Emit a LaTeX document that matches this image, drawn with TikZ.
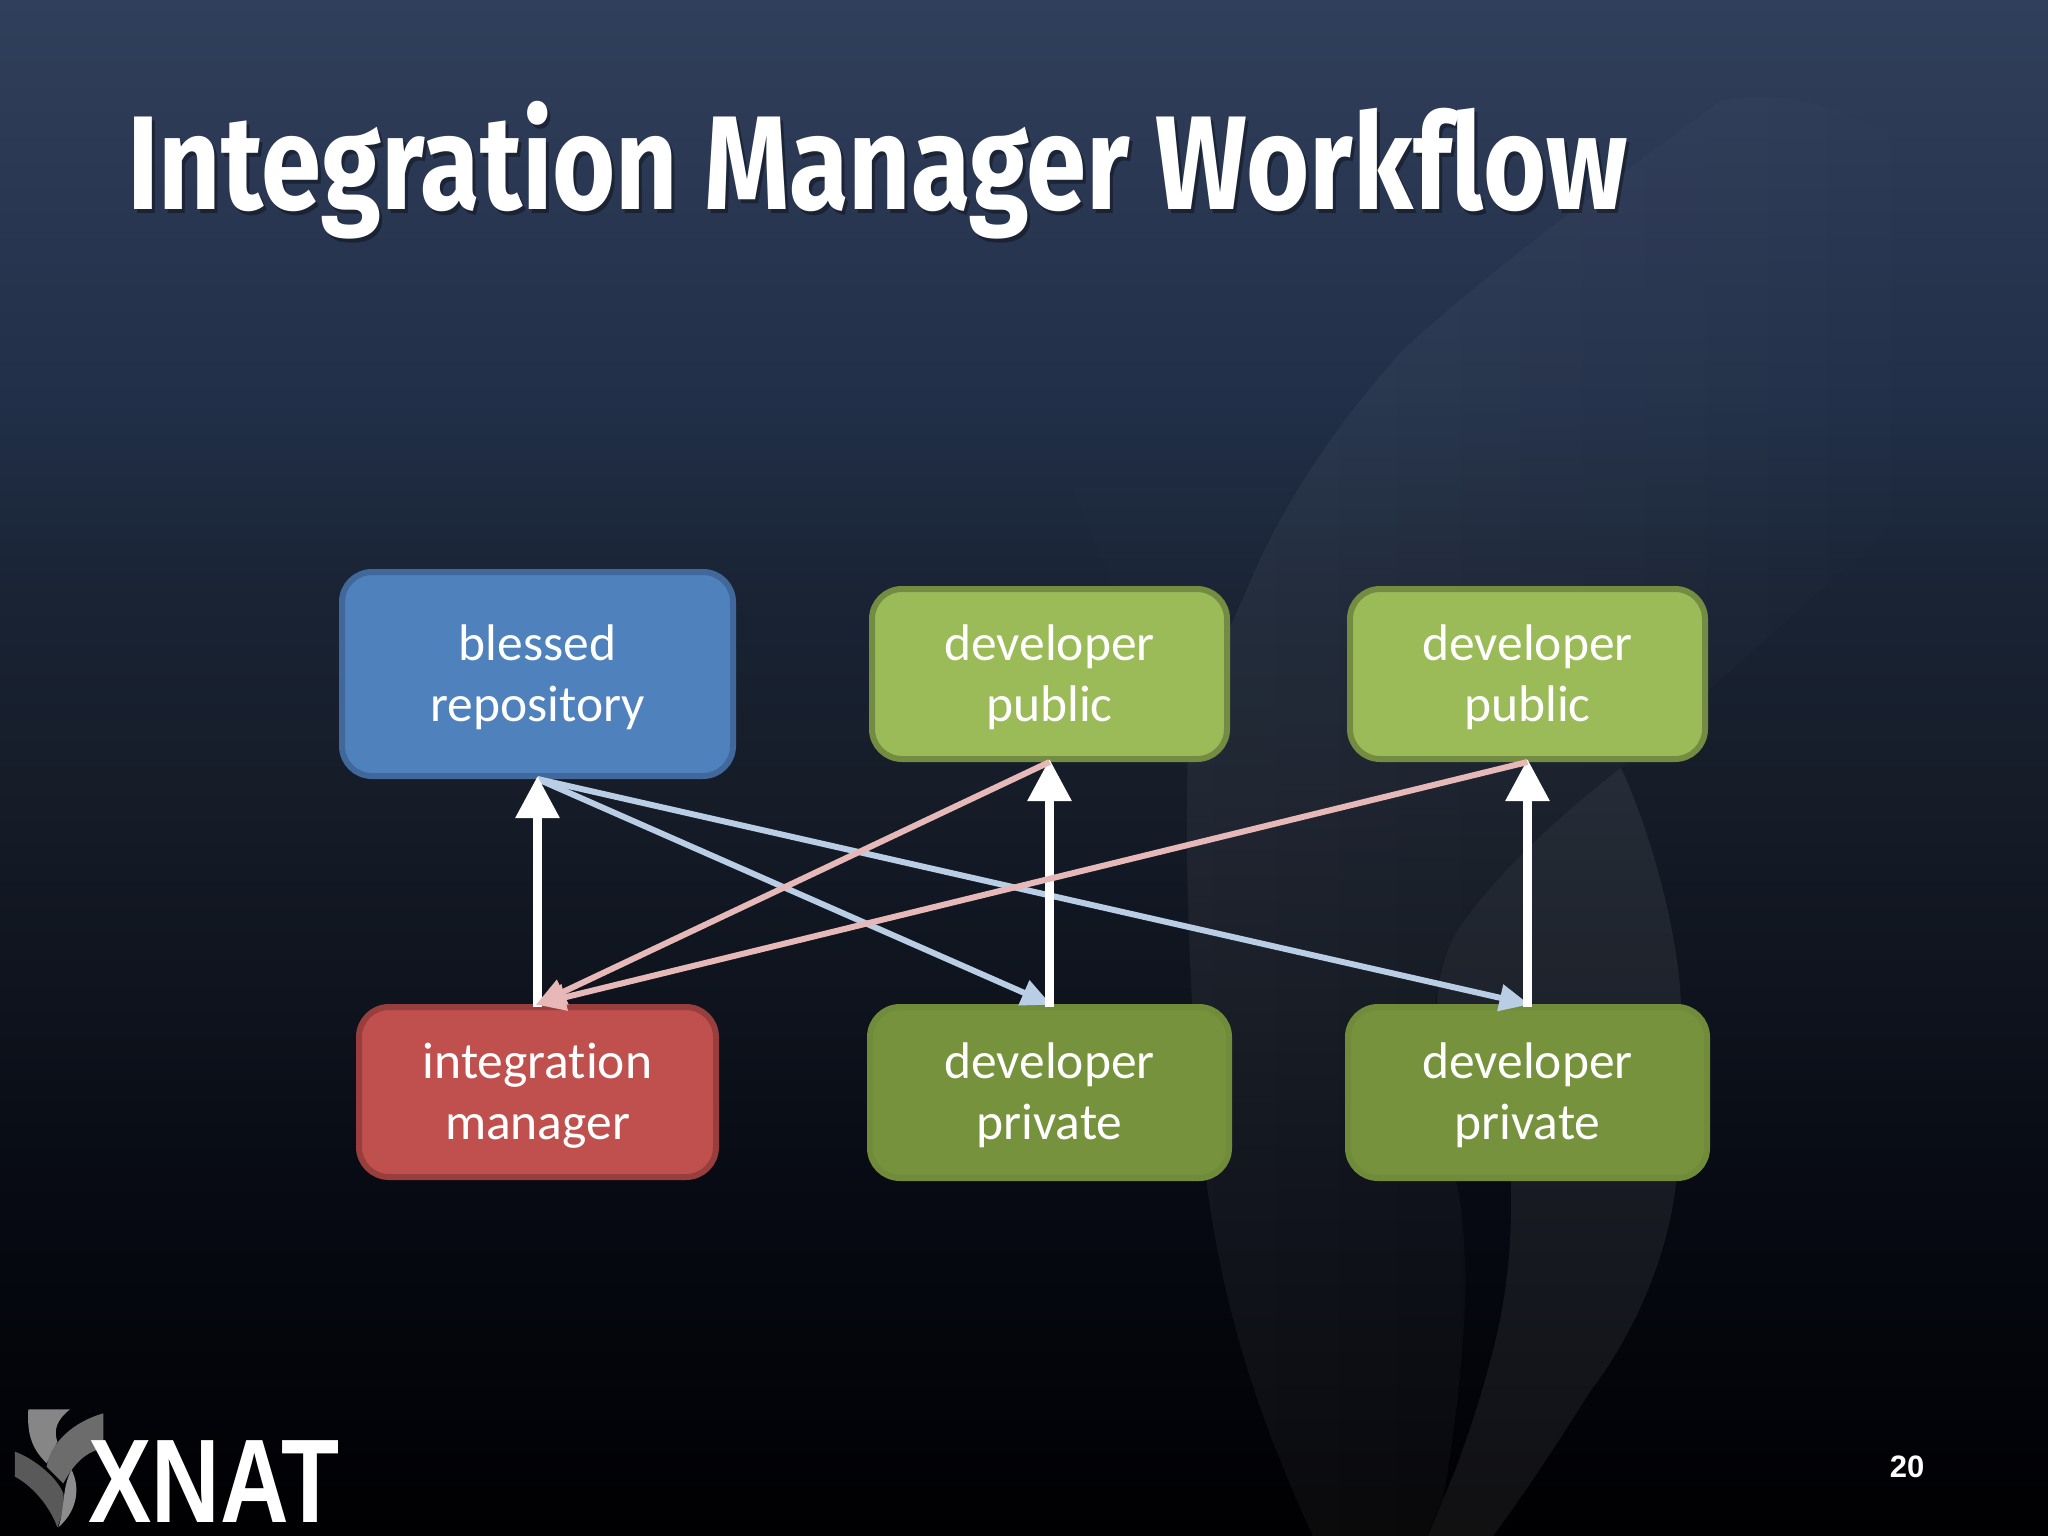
\documentclass[tikz,border=0pt]{standalone}
\usepackage{fontspec}
\usetikzlibrary{arrows.meta,fadings}
\newfontfamily\boxfont[Ligatures=NoCommon]{Carlito}
\newfontfamily\titlefont[FakeStretch=0.812,Ligatures=NoCommon]{Fira Sans Bold}
\newfontfamily\logofont[FakeStretch=0.798]{Liberation Sans Bold}
\newfontfamily\numfont{Liberation Sans Bold}
\newcommand\boxlines[2]{\raisebox{0pt}[\dimexpr\height+9pt\relax][\depth]{\begin{tabular}{@{}c@{}}#1\\#2\end{tabular}}}
\definecolor{bgA}{RGB}{48,63,91}
\definecolor{bgB}{RGB}{42,55,82}
\definecolor{bgC}{RGB}{33,47,72}
\definecolor{bgD}{RGB}{25,35,52}
\definecolor{bgE}{RGB}{22,29,41}
\definecolor{bgF}{RGB}{14,19,29}
\definecolor{bgG}{RGB}{7,10,19}
\definecolor{bgH}{RGB}{0,0,2}
\pgfdeclareverticalshading{bgshade}{100bp}{
  color(0bp)=(bgH); color(25bp)=(bgH); color(35.9bp)=(bgG); color(42.4bp)=(bgF); color(49.6bp)=(bgE);
  color(55.5bp)=(bgD); color(62bp)=(bgC); color(68.5bp)=(bgB); color(75bp)=(bgA); color(100bp)=(bgA)}
\tikzfading[name=leaffade,left color=transparent!0,middle color=transparent!20,right color=transparent!100]
\tikzset{
  repo/.style={rectangle,rounded corners=30,line width=6,text=white,inner sep=0,
    font=\boxfont\fontsize{51.5}{61}\selectfont},
  bluebox/.style={repo,draw=boxblueline,fill=boxblue,minimum width=391,minimum height=204},
  redbox/.style={repo,draw=boxredline,fill=boxred,minimum width=357,minimum height=170},
  pubbox/.style={repo,draw=boxgreenline,fill=boxgreen,minimum width=355,minimum height=170},
  privbox/.style={repo,draw=boxdarkline,fill=boxdark,minimum width=359,minimum height=171},
  pusharrow/.style={draw=white,line width=9,-{Triangle[width=42,length=42]},shorten >=-3,shorten <=-3},
  bluearrow/.style={draw=arrowblue,line width=6,-{Triangle[width=26,length=30]},shorten >=-2},
  pinkarrow/.style={draw=arrowpink,line width=6,-{Triangle[width=26,length=30]},shorten >=-2},
}
\definecolor{boxblue}{HTML}{4F81BD}
\definecolor{boxblueline}{HTML}{41689A}
\definecolor{boxred}{HTML}{C0504D}
\definecolor{boxredline}{HTML}{983F3D}
\definecolor{boxgreen}{HTML}{9BBB59}
\definecolor{boxgreenline}{HTML}{738C42}
\definecolor{boxdark}{HTML}{76923C}
\definecolor{boxdarkline}{HTML}{708B3A}
\definecolor{arrowblue}{HTML}{B9CDE5}
\definecolor{arrowpink}{HTML}{E6B9B8}
\begin{document}
\begin{tikzpicture}[x=1pt,y=-1pt]
\useasboundingbox (0,0) rectangle (2048,1536);
\shade[shading=bgshade] (0,0) rectangle (2048,1536);
% faint leaves of the background
\fill[white,opacity=0.012,path fading=north] (965,200) .. controls (1000,340) and (1110,560) .. (1188,775)
   .. controls (1200,680) and (1230,610) .. (1251,580) .. controls (1290,480) and (1340,410) .. (1405,347)
   -- (1300,200) -- cycle;
\fill[white,opacity=0.05,path fading=leaffade] (1720,100) .. controls (1640,160) and (1500,260) .. (1405,347)
   .. controls (1330,430) and (1280,510) .. (1251,580)
   .. controls (1215,660) and (1188,720) .. (1188,775)
   .. controls (1185,900) and (1195,1080) .. (1207,1180)
   .. controls (1225,1320) and (1265,1430) .. (1314,1536)
   -- (1428,1536) -- (1444,1497)
   .. controls (1458,1420) and (1468,1320) .. (1466,1267)
   .. controls (1465,1230) and (1462,1200) .. (1457,1180)
   -- (1437,1003) .. controls (1437,980) and (1445,950) .. (1456,933)
   .. controls (1490,880) and (1560,815) .. (1621,768)
   -- (1881,536) .. controls (1940,440) and (1980,300) .. (1960,200)
   .. controls (1900,120) and (1800,80) .. (1720,100) -- cycle;
\fill[white,opacity=0.065] (1621,768) .. controls (1650,830) and (1678,930) .. (1681,1003)
   -- (1676,1183) .. controls (1668,1260) and (1630,1340) .. (1591,1390)
   .. controls (1560,1440) and (1520,1500) .. (1493,1536) -- (1428,1536)
   -- (1444,1497) .. controls (1465,1450) and (1490,1370) .. (1500,1320)
   .. controls (1510,1270) and (1512,1220) .. (1511,1180)
   -- (1437,1003) .. controls (1437,980) and (1445,950) .. (1456,933)
   .. controls (1490,880) and (1560,815) .. (1621,768) -- cycle;
% title
\node[anchor=base west,inner sep=0,text=black,opacity=0.35,font=\titlefont\fontsize{133.5}{133.5}\selectfont] (titleshadow) at (130,213) {Integration Manager Workflow};
\node[anchor=base west,inner sep=0,text=white,font=\titlefont\fontsize{133.5}{133.5}\selectfont] (title) at (127,209.5) {Integration Manager Workflow};
% boxes
\node[bluebox] (blessed) at (537.5,674) {\boxlines{blessed}{repository}};
\node[pubbox] (pubone) at (1049.5,674) {\boxlines{developer}{public}};
\node[pubbox] (pubtwo) at (1527.5,674) {\boxlines{developer}{public}};
\node[redbox] (integ) at (537.5,1092) {\boxlines{integration}{manager}};
\node[privbox] (privone) at (1049.5,1092.5) {\boxlines{developer}{private}};
\node[privbox] (privtwo) at (1527.5,1092.5) {\boxlines{developer}{private}};
% connectors
\draw[bluearrow] (blessed.south) -- (privone.north);
\draw[bluearrow] (blessed.south) -- (privtwo.north);
\draw[pusharrow] (integ.north) -- (blessed.south);
\draw[pusharrow] (privone.north) -- (pubone.south);
\draw[pusharrow] (privtwo.north) -- (pubtwo.south);
\draw[pinkarrow] (pubone.south) -- (integ.north);
\draw[pinkarrow] (pubtwo.south) -- (integ.north);
% logo
\begin{scope}[shift={(0,1380)},x=0.3333pt,y=-0.3333pt]
  \fill[gray!95] (85,88) -- (210,88) .. controls (170,120) and (160,150) .. (172,185)
     -- (140,250) .. controls (100,210) and (80,170) .. (85,88) -- cycle;
  \fill[gray!85!black] (310,100) -- (310,205) .. controls (260,215) and (225,245) .. (190,310)
     -- (140,260) .. controls (150,190) and (220,125) .. (310,100) -- cycle;
  \fill[gray!70!black] (45,215) .. controls (100,235) and (170,290) .. (190,340)
     .. controls (195,380) and (185,410) .. (172,442) .. controls (150,380) and (100,320) .. (45,290) -- cycle;
  \fill[gray!90] (215,270) .. controls (240,320) and (235,390) .. (175,442)
     .. controls (195,390) and (185,320) .. (215,270) -- cycle;
\end{scope}
\node[anchor=base west,inner sep=0,text=white,font=\logofont\fontsize{119}{119}\selectfont] (logo) at (88,1522) {XNAT};
\node[anchor=center,inner sep=0,text=white,font=\numfont\fontsize{31}{31}\selectfont] (pagenum) at (1907,1467) {20};
\end{tikzpicture}
\end{document}
